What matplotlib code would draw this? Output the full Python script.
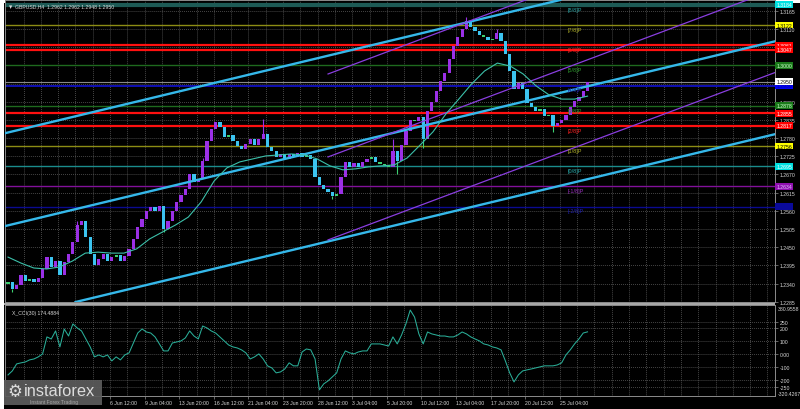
import numpy as np
import matplotlib
matplotlib.use("Agg")
import matplotlib.pyplot as plt
from matplotlib.patches import Rectangle

plt.rcParams['font.family'] = ['Liberation Sans', 'DejaVu Sans']

# ---------------- data (H8-sized candles) ----------------
open0 = 1.2338
closes = [1.2345, 1.2323, 1.2336, 1.2366, 1.2348, 1.2354, 1.2345, 1.2357, 1.2384, 1.2420,
          1.2390, 1.2408, 1.2366, 1.2405, 1.2429, 1.2466, 1.2517, 1.2529, 1.2481, 1.2429,
          1.2396, 1.2414, 1.2429, 1.2408, 1.2420, 1.2426, 1.2408, 1.2423, 1.2444, 1.2475,
          1.2511, 1.2535, 1.2559, 1.2572, 1.2559, 1.2575, 1.2505, 1.2529, 1.2559, 1.2587,
          1.2608, 1.2626, 1.2671, 1.2647, 1.2656, 1.2711, 1.2771, 1.2808, 1.2829, 1.2814,
          1.2783, 1.2790, 1.2771, 1.2756, 1.2747, 1.2762, 1.2777, 1.2759, 1.2777, 1.2792,
          1.2753, 1.2741, 1.2723, 1.2732, 1.2717, 1.2732, 1.2723, 1.2735, 1.2723, 1.2729,
          1.2717, 1.2662, 1.2638, 1.2626, 1.2617, 1.2605, 1.2611, 1.2662, 1.2708, 1.2693,
          1.2705, 1.2693, 1.2708, 1.2717, 1.2723, 1.2708, 1.2702, 1.2699, 1.2693, 1.2741,
          1.2711, 1.2759, 1.2802, 1.2835, 1.2832, 1.2844, 1.2777, 1.2862, 1.2889, 1.2922,
          1.2953, 1.2977, 1.3019, 1.3059, 1.3086, 1.3110, 1.3134, 1.3116, 1.3104, 1.3092,
          1.3086, 1.3077, 1.3080, 1.3098, 1.3074, 1.3035, 1.2983, 1.2929, 1.2947, 1.2929,
          1.2886, 1.2874, 1.2862, 1.2868, 1.2847, 1.2850, 1.2817, 1.2826, 1.2835, 1.2850,
          1.2874, 1.2892, 1.2904, 1.2922, 1.2950]
spike_hi = {59: 1.2838, 89: 1.2777, 106: 1.3146, 113: 1.3110, 16: 1.2530, 45: 1.2720}
spike_lo = {1: 1.2314, 75: 1.2596, 90: 1.2671, 96: 1.2750, 126: 1.2799, 36: 1.2497}

ma_vals = [1.2420, 1.2402, 1.2387, 1.2384, 1.2390, 1.2408, 1.2432, 1.2435, 1.2432, 1.2432,
           1.2445, 1.2475, 1.2496, 1.2517, 1.2541, 1.2587, 1.2650, 1.2690, 1.2708, 1.2717,
           1.2726, 1.2729, 1.2732, 1.2729, 1.2717, 1.2696, 1.2684, 1.2687, 1.2693, 1.2696,
           1.2699, 1.2720, 1.2759, 1.2799, 1.2853, 1.2898, 1.2944, 1.2983, 1.3007, 1.2998,
           1.2974, 1.2938, 1.2911, 1.2898, 1.2898, 1.2907]

cci_vals = [-158, -127, -73, -65, -58, -42, -35, -19, 4, 135,
            119, 181, 58, 196, 142, 235, 204, 181, 119, 58,
            -19, -4, -19, -4, -50, -19, -42, -4, 12, 88,
            165, 196, 173, 165, 135, 81, 27, 27, 88, 96,
            104, 127, 181, 142, 119, 219, 204, 181, 165, 135,
            104, 73, 58, 50, 35, 12, -35, -19, 4, -35,
            -88, -104, -142, -135, -112, -65, -88, -88, 19, 42,
            35, -35, -273, -227, -204, -173, -142, -35, 27, 12,
            4, 19, 27, 27, 81, 81, 81, 73, 65, 135,
            81, 150, 235, 342, 288, 158, 81, 173, 158, 150,
            142, 142, 135, 135, 150, 173, 158, 135, 119, 104,
            81, 73, 58, 50, 35, -50, -142, -212, -158, -127,
            -119, -112, -104, -96, -88, -88, -88, -81, -65, -4,
            35, 81, 119, 165, 174]

murrey_names = ["[8/8]P", "[7/8]P", "[6/8]P", "[5/8]P", "[4/8]P", "[3/8]P",
                "[2/8]P", "[1/8]P", "[0/8]P", "[-1/8]P", "[-2/8]P"]
murrey_prices = [1.3184, 1.3122, 1.3061, 1.3000, 1.2939, 1.2878,
                 1.2817, 1.2756, 1.2695, 1.2634, 1.2573]
extra_red = [1.3047, 1.2855]
last_price = 1.2950

# regression channel (cyan) anchors: candle index, middle price, half width
reg_idx = [0, 100]
reg_mid = [1.2516, 1.2830]
reg_half = 0.0281
# purple channel anchors (starts at candle 74)
pur_idx = [74, 134]
pur_mid = [1.2723, 1.3017]
pur_half = 0.0251

price_ticks = [1.2285 + 0.0055 * k for k in range(17)]
hidden_tick_labels = [1.3055, 1.3000, 1.2945]   # covered by the coloured level boxes
cci_ticks = [250, 200, 100, 0, -100, -200, -250]
cci_tick_labels = ["250", "200", "100", "0.00", "-100", "-200", "-250"]
cci_max, cci_min = 380.9558, -320.4267

date_labels = ["6 Jun 12:00", "9 Jun 04:00", "13 Jun 20:00", "16 Jun 12:00", "21 Jun 04:00",
               "23 Jun 20:00", "28 Jun 12:00", "3 Jul 04:00", "5 Jul 20:00", "10 Jul 12:00",
               "13 Jul 04:00", "17 Jul 20:00", "20 Jul 12:00", "25 Jul 04:00"]

# ---------------- styles ----------------
W, H = 800, 410
BG = "#000000"
UPC, DNC, DOJ = "#9b30e6", "#3cc4f0", "#3cd070"
GRID = "#6e6e6e"
TXT = "#d8d8d8"
FS = 3.7
lvl_style = {  # line color, lw, label bg, label fg, tag color
    "[8/8]P": ("#1d5a55", 3.0, "#00e0e0", "#ffffff", "#2aa0a0"),
    "[7/8]P": ("#8c8c14", 1.0, "#ffff00", "#000000", "#b4b428"),
    "[6/8]P": ("#ff1010", 1.6, "#ff0000", "#ffffff", "#ff2020"),
    "[5/8]P": ("#1e6a1e", 1.0, "#1a7a1a", "#d0ffd0", "#2e9a2e"),
    "[4/8]P": ("#1010b4", 1.4, "#0000f0", "#0000a8", "#1818a0"),
    "[3/8]P": ("#1e6a1e", 1.0, "#1a7a1a", "#d0ffd0", "#2e9a2e"),
    "[2/8]P": ("#ff1010", 1.6, "#ff0000", "#ffffff", "#ff2020"),
    "[1/8]P": ("#8c8c14", 1.0, "#ffff00", "#000000", "#b4b428"),
    "[0/8]P": ("#1a8c8c", 1.0, "#00e0e0", "#ffffff", "#2ab0b0"),
    "[-1/8]P": ("#82109a", 1.0, "#9010b0", "#e0c0ff", "#9a30c0"),
    "[-2/8]P": ("#0a0a90", 1.0, "#0a0a9a", "#0a0a9a", "#2020b0"),
}

px_per_candle = 4.325
first_px = 8.0
ax_left_px, ax_right_px = 5.0, 775.0
xl = ((ax_left_px - first_px) / px_per_candle, (ax_right_px - first_px) / px_per_candle)

fig = plt.figure(figsize=(W / 100, H / 100), dpi=100, facecolor="white")
fig.patches.append(Rectangle((4 / W, 0), 796 / W, 406 / H, transform=fig.transFigure,
                             facecolor=BG, edgecolor="none", zorder=-5))

def fax(x0, y0, x1, y1):
    return fig.add_axes([x0 / W, 1 - y1 / H, (x1 - x0) / W, (y1 - y0) / H])

ax = fax(ax_left_px, 1, ax_right_px, 303)
axc = fax(ax_left_px, 306, ax_right_px, 397)

p_per_px = 1 / 3305.0
ylo = 1.2285 - 0.3 * p_per_px
yhi = 1.2285 + 301.7 * p_per_px

for a in (ax, axc):
    a.set_facecolor(BG)
    a.set_xlim(*xl)
    for s in a.spines.values():
        s.set_color("#8c8c8c")
        s.set_linewidth(0.7)
ax.set_ylim(ylo, yhi)
axc.set_ylim(cci_min, cci_max)

# separator band
fig.patches.append(Rectangle((4 / W, 1 - 306 / H), 771 / W, 2.2 / H, transform=fig.transFigure,
                             facecolor="#a8a8a8", edgecolor="none", zorder=5))

# grid
grid_x = np.arange(23.6 - 4 * 5, xl[1], 4.0)
grid_x = grid_x[grid_x > xl[0]]
dash = (0, (1.0, 1.6))
for a, ys in ((ax, price_ticks), (axc, cci_ticks)):
    a.vlines(grid_x, *a.get_ylim(), colors=GRID, linestyles=dash, lw=0.55, zorder=1)
    a.hlines(ys, *xl, colors=GRID, linestyles=dash, lw=0.55, zorder=1)

# Murrey levels
for name, p in zip(murrey_names, murrey_prices):
    lc, lw, bg, fg, tc = lvl_style[name]
    ax.axhline(p, color=lc, lw=lw, zorder=2)
    ax.annotate(name, (129.3, p), xytext=(0, -1.4), textcoords="offset points",
                ha="left", va="top", fontsize=FS + 0.3, color=tc, zorder=7)
for p in extra_red:
    ax.axhline(p, color="#ff1010", lw=1.6, zorder=2)
ax.axhline(last_price, color="#8a8a8a", lw=0.8, zorder=2)

# regression channels
for off in (-reg_half, 0.0, reg_half):
    ax.axline((reg_idx[0], reg_mid[0] + off), (reg_idx[1], reg_mid[1] + off),
              color="#35b8ea", lw=1.7, zorder=5)
pslope = (pur_mid[1] - pur_mid[0]) / (pur_idx[1] - pur_idx[0])
xr = np.array([pur_idx[0], xl[1] + 2])
for off in (-pur_half, 0.0, pur_half):
    ax.plot(xr, pur_mid[0] + off + pslope * (xr - pur_idx[0]), color="#8a3ee0", lw=0.9, zorder=5)

# candles
c = np.array(closes)
o = np.r_[open0, c[:-1]]
xi = np.arange(len(c))
body = np.abs(c - o)
cols = np.where(body < 0.0007, DOJ, np.where(c >= o, UPC, DNC))
ax.bar(xi, np.maximum(body, 0.00028), bottom=np.minimum(o, c), width=0.75,
       color=cols, linewidth=0, zorder=4)
for i, h in spike_hi.items():
    ax.vlines(i, max(o[i], c[i]), h, colors=cols[i], lw=0.8, zorder=4)
for i, l in spike_lo.items():
    ax.vlines(i, l, min(o[i], c[i]), colors=DOJ, lw=0.8, zorder=4)

# moving average
ax.plot(np.linspace(0, len(c) - 1, len(ma_vals)), ma_vals, color="#3cc0aa", lw=0.8, zorder=6)

# price axis
ax.yaxis.tick_right()
ax.set_yticks(price_ticks)
ax.set_yticklabels(["" if any(abs(t - h) < 1e-6 for h in hidden_tick_labels) else f"{t:.4f}"
                    for t in price_ticks])
ax.tick_params(axis="y", colors="#8c8c8c", labelcolor=TXT, labelsize=FS, length=2, pad=1.5, width=0.5)
ax.set_xticks([])

# coloured right labels
def rlabel(a, p, text, bg, fg):
    a.text(1.0015, p, text, transform=a.get_yaxis_transform(), ha="left", va="center",
           fontsize=FS, color=fg, zorder=20, clip_on=False,
           bbox=dict(boxstyle="square,pad=0.18", fc=bg, ec="none"))

for name, p in zip(murrey_names, murrey_prices):
    lc, lw, bg, fg, tc = lvl_style[name]
    rlabel(ax, p, f"{p:.4f}", bg, fg)
for p in extra_red:
    rlabel(ax, p, f"{p:.4f}", "#ff0000", "#ffffff")
rlabel(ax, last_price, f"{last_price:.4f}", "#ffffff", "#000000")

# CCI
axc.plot(xi, cci_vals, color="#2aae98", lw=0.75, zorder=4)
axc.yaxis.tick_right()
axc.set_yticks(cci_ticks)
axc.set_yticklabels(cci_tick_labels)
axc.tick_params(axis="y", colors="#8c8c8c", labelcolor=TXT, labelsize=FS, length=2, pad=1.5, width=0.5)
axc.text(1.004, 0.985, f"{cci_max:.4f}", transform=axc.transAxes, ha="left", va="top",
         fontsize=FS, color=TXT, clip_on=False)
axc.text(1.004, 0.0, f"{cci_min:.4f}", transform=axc.transAxes, ha="left", va="bottom",
         fontsize=FS, color=TXT, clip_on=False)
axc.text(0.009, 0.92, f"X_CCI(30) {cci_vals[-1] + 0.4884:.4f}", transform=axc.transAxes,
         ha="left", va="center", fontsize=FS, color=TXT)

date_pos = 23.6 + 8 * np.arange(len(date_labels))
axc.set_xticks(date_pos)
axc.set_xticklabels(date_labels)
axc.tick_params(axis="x", colors="#8c8c8c", labelcolor=TXT, labelsize=FS, length=2, pad=1.0, width=0.5)
for lab in axc.get_xticklabels():
    lab.set_ha("left")

# title
fig.text(9 / W, 1 - 6.8 / H, "\u25BE", fontsize=FS + 1, color=TXT, va="center", ha="left",
         family="DejaVu Sans")
fig.text(15 / W, 1 - 6.8 / H, "GBPUSD,H4  1.2962 1.2962 1.2948 1.2950", fontsize=FS,
         color=TXT, va="center", ha="left")

# logo
fig.patches.append(Rectangle((4 / W, 1 - 406 / H), 98 / W, 25 / H, transform=fig.transFigure,
                             facecolor="#5c5c5c", edgecolor="none", alpha=0.92, zorder=10))
fig.text(7 / W, 1 - 392.5 / H, "\u2699", fontsize=12, color="#dcdcdc", va="center", ha="left",
         family="DejaVu Sans", zorder=11)
fig.text(24 / W, 1 - 392 / H, "instaforex", fontsize=11.8, color="#dcdcdc", va="center",
         ha="left", zorder=11)
fig.text(30 / W, 1 - 402.5 / H, "Instant Forex Trading", fontsize=3.6, color="#a8a8a8",
         va="center", ha="left", zorder=11)

fig.savefig("out.png", dpi=100, facecolor=fig.get_facecolor())
